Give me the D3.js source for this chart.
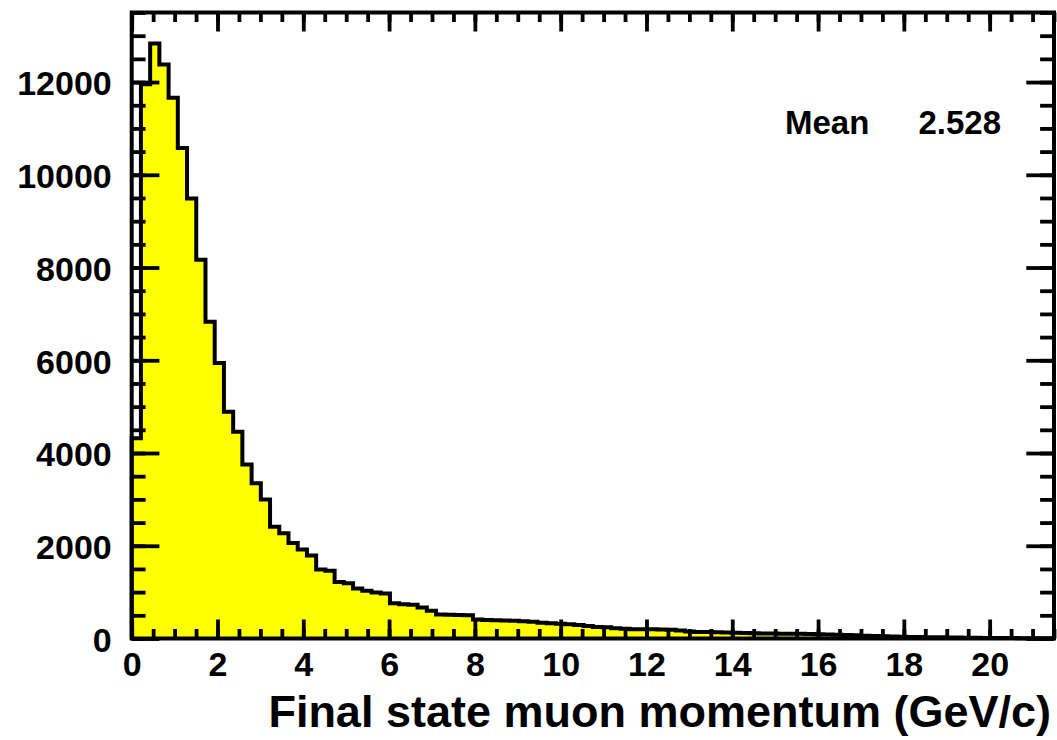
<!DOCTYPE html>
<html>
<head>
<meta charset="utf-8">
<script src="https://cdn.jsdelivr.net/npm/d3@7"></script>
<style>
  html, body { margin: 0; padding: 0; background: #ffffff; }
  svg { display: block; }
  text { font-family: "Liberation Sans", Arial, Helvetica, sans-serif; font-weight: bold; fill: #000; }
</style>
</head>
<body>
<svg id="chart" width="1057" height="740"></svg>
<script>
// ---- data ----
const xMin = 0;
const xMax = 21.5;
const binCounts = [
  4320, 11950, 12830, 12380, 11660, 10580, 9490, 8170, 6830, 5940,
  4890, 4460, 3750, 3350, 3000, 2410, 2270, 2060, 1920, 1790,
  1490, 1460, 1220, 1190, 1080, 1030, 990, 970, 760, 740,
  730, 670, 600, 520, 510, 505, 500, 410, 400, 395,
  390, 385, 370, 360, 340, 330, 320, 310, 290, 270,
  250, 240, 220, 210, 200, 200, 200, 195, 190, 170,
  150, 140, 140, 135, 130, 125, 120, 115, 110, 110,
  105, 100, 100, 95, 90, 85, 80, 75, 70, 60,
  55, 50, 45, 40, 35, 30, 28, 25, 22, 20,
  18, 15, 13, 12, 10, 9, 8, 6, 5, 4
];
const yMax = 13500;
const xMajorTicks = [0, 2, 4, 6, 8, 10, 12, 14, 16, 18, 20];
const xMinorTicks = d3.range(0, 21.51, 0.5);
const yMajorTicks = [0, 2000, 4000, 6000, 8000, 10000, 12000];
const yMinorTicks = d3.range(0, 13501, 500);
const xTitle = "Final state muon momentum (GeV/c)";
const statsLabel = "Mean";
const statsValue = "2.528";

// ---- layout ----
const L = 131.7, R = 1054, T = 12.5, B = 638.5;
const svg = d3.select("#chart");

const x = d3.scaleLinear().domain([xMin, xMax]).range([L, R]);
const y = d3.scaleLinear().domain([0, yMax]).range([B, T]);

const nb = binCounts.length;
const bw = (xMax - xMin) / nb;
const pts = [];
pts.push([xMin, 0]);
binCounts.forEach((v, i) => {
  pts.push([xMin + i * bw, v]);
  pts.push([xMin + (i + 1) * bw, v]);
});
pts.push([xMax, 0]);

const area = d3.area().x(d => x(d[0])).y0(y(0)).y1(d => y(d[1]));
const line = d3.line().x(d => x(d[0])).y(d => y(d[1]));

svg.append("path").attr("d", area(pts)).attr("fill", "#ffff00").attr("stroke", "none");
svg.append("path").attr("d", line(pts)).attr("fill", "none")
  .attr("stroke", "#000").attr("stroke-width", 4).attr("stroke-linejoin", "miter");

// ---- axes ----
const xMajLen = 19, xMinLen = 9.5, yMajLen = 27.7, yMinLen = 13.9;
function styleAxis(g) {
  g.select(".domain").remove();
  g.selectAll(".tick line").attr("stroke", "#000").attr("stroke-width", 3.8);
}
// bottom minor
svg.append("g").attr("transform", `translate(0,${B})`)
  .call(d3.axisBottom(x).tickValues(xMinorTicks).tickSize(-xMinLen).tickFormat(""))
  .call(styleAxis);
// bottom major with labels
const xb = svg.append("g").attr("transform", `translate(0,${B})`)
  .call(d3.axisBottom(x).tickValues(xMajorTicks).tickSize(-xMajLen).tickPadding(0).tickFormat(d3.format("d")))
  .call(styleAxis);
xb.selectAll(".tick text").attr("font-size", 34).attr("dy", null).attr("y", 37)
  .style("font-family", '"Liberation Sans", Arial, sans-serif').style("font-weight", "bold");
// top mirror
svg.append("g").attr("transform", `translate(0,${T})`)
  .call(d3.axisTop(x).tickValues(xMinorTicks).tickSize(-xMinLen).tickFormat(""))
  .call(styleAxis);
svg.append("g").attr("transform", `translate(0,${T})`)
  .call(d3.axisTop(x).tickValues(xMajorTicks).tickSize(-xMajLen).tickFormat(""))
  .call(styleAxis);
// left
svg.append("g").attr("transform", `translate(${L},0)`)
  .call(d3.axisLeft(y).tickValues(yMinorTicks).tickSize(-yMinLen).tickFormat(""))
  .call(styleAxis);
const yl = svg.append("g").attr("transform", `translate(${L},0)`)
  .call(d3.axisLeft(y).tickValues(yMajorTicks).tickSize(-yMajLen).tickPadding(0).tickFormat(d3.format("d")))
  .call(styleAxis);
yl.selectAll(".tick text").attr("font-size", 34).attr("x", -20).attr("dy", "0.38em")
  .style("font-family", '"Liberation Sans", Arial, sans-serif').style("font-weight", "bold");
// right mirror
svg.append("g").attr("transform", `translate(${R},0)`)
  .call(d3.axisRight(y).tickValues(yMinorTicks).tickSize(-yMinLen).tickFormat(""))
  .call(styleAxis);
svg.append("g").attr("transform", `translate(${R},0)`)
  .call(d3.axisRight(y).tickValues(yMajorTicks).tickSize(-yMajLen).tickFormat(""))
  .call(styleAxis);

// frame
svg.append("rect").attr("x", L).attr("y", T).attr("width", R - L).attr("height", B - T)
  .attr("fill", "none").attr("stroke", "#000").attr("stroke-width", 4);

// axis title
svg.append("text").attr("x", 1051).attr("y", 727).attr("text-anchor", "end")
  .attr("font-size", 45).text(xTitle);

// stats
svg.append("text").attr("x", 785).attr("y", 134).attr("font-size", 33).text(statsLabel);
svg.append("text").attr("x", 1001).attr("y", 134).attr("text-anchor", "end").attr("font-size", 33).text(statsValue);
</script>
</body>
</html>
